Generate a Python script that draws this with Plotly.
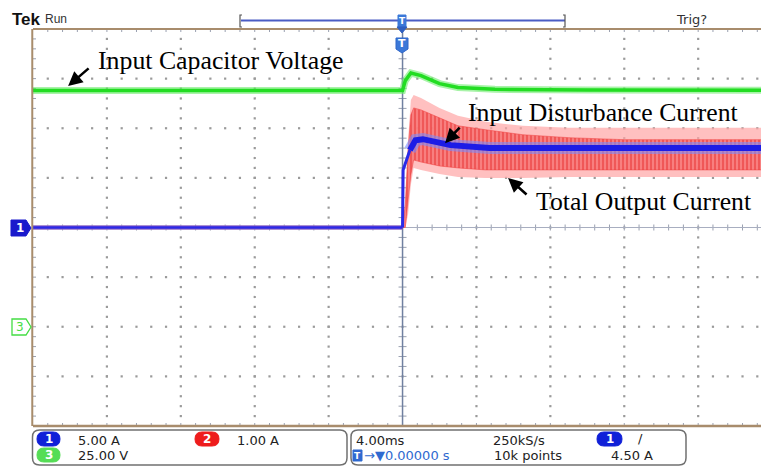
import numpy as np
import plotly.graph_objects as go

# ---------------- data read from the scope screen ----------------
# time base: 4.00 ms/div, trigger at 0 ms
TIME_PER_DIV_MS = 4.0
CH1_A_PER_DIV = 5.0      # blue : input disturbance current
CH2_A_PER_DIV = 1.0      # red  : total output current
CH3_V_PER_DIV = 25.0     # green: input capacitor voltage
CH3_OFFSET_DIV = -2.0

time_ms_green = [-20.0, -10.0, 0.0, 0.15, 0.45, 1.0, 2.0, 3.0, 5.0, 10.0, 15.0, 19.4]
ch3_volts     = [119.0, 119.0, 119.0, 124.0, 127.8, 126.5, 122.5, 120.5, 119.6, 119.3, 119.2, 119.2]

time_ms_blue_pre = [-20.0, 0.0]
ch1_amps_pre     = [0.0, 0.0]
time_ms_blue = [0.0, 0.03, 0.4, 0.7, 1.1, 2.0, 2.6, 4.7, 10.0, 19.4]
ch1_amps     = [0.0, 5.8, 7.8, 8.8, 8.9, 8.6, 8.3, 8.0, 8.0, 8.0]

time_ms_red = [0.0, 0.15, 0.3, 0.45, 0.6, 1.0, 2.0, 3.0, 4.5, 6.5, 9.0, 12.0, 15.0, 19.4]
ch2_core_hi = [0.0, 0.46, 1.56, 2.27, 2.41, 2.37, 2.21, 2.05, 1.97, 1.87, 1.81, 1.77, 1.77, 1.77]
ch2_core_lo = [0.0, 0.0, 0.56, 1.06, 1.36, 1.32, 1.24, 1.20, 1.16, 1.16, 1.16, 1.16, 1.16, 1.16]
ch2_halo_hi = [0.0, 0.56, 1.77, 2.57, 2.67, 2.61, 2.41, 2.25, 2.13, 2.05, 2.01, 2.01, 2.01, 2.01]
ch2_halo_lo = [0.0, 0.0, 0.26, 0.86, 1.20, 1.16, 1.08, 1.02, 1.00, 1.00, 1.02, 1.02, 1.02, 1.02]

labels = ["Input Capacitor Voltage", "Input Disturbance Current", "Total Output Current"]
status_row1 = ["5.00 A", "1.00 A", "4.00ms", "250kS/s"]
status_row2 = ["25.00 V", "→▼0.00000 s", "10k points", "4.50 A"]

# ---------------- layout geometry ----------------
W, H = 761, 466
L, R, T, B = 33, 0, 29, 40
PW, PH = W - L - R, H - T - B
X0, X1 = -20.0, 19.4
PXMS = PW / (X1 - X0)
PXDIV = PH / 8.0


def pp(x, y):
    return (x - L) / PW, (H - B - y) / PH


def ps(x, y):
    a, b = pp(x, y)
    return f"{a:.5f},{b:.5f}"


def rrect(x0, y0, x1, y1, r):
    return (f"M {ps(x0+r,y0)} L {ps(x1-r,y0)} Q {ps(x1,y0)} {ps(x1,y0+r)} "
            f"L {ps(x1,y1-r)} Q {ps(x1,y1)} {ps(x1-r,y1)} L {ps(x0+r,y1)} "
            f"Q {ps(x0,y1)} {ps(x0,y1-r)} L {ps(x0,y0+r)} Q {ps(x0,y0)} {ps(x0+r,y0)} Z")


def poly(pts):
    return "M " + " L ".join(ps(x, y) for x, y in pts) + " Z"


fig = go.Figure()

# ---------------- graticule ----------------
dx, dy = [], []
for yd in [-3, -2, -1, 1, 2, 3]:
    for k in np.arange(-25, 25):
        xv = k * 0.2 * TIME_PER_DIV_MS
        if X0 < xv < X1:
            dx.append(xv); dy.append(yd)
for xd in [-4, -3, -2, -1, 1, 2, 3, 4]:
    for k in np.arange(-19, 20):
        dx.append(xd * TIME_PER_DIV_MS); dy.append(k * 0.2)
fig.add_trace(go.Scatter(x=dx, y=dy, mode="markers", hoverinfo="skip",
                         marker=dict(size=2.2, color="#9a9a9a", symbol="square")))

# ticks on borders and center lines
tx, ty = [], []
tkx = 3 / PXMS
tky = 3 / PXDIV
for k in np.arange(-25, 25):
    xv = k * 0.2 * TIME_PER_DIV_MS
    if X0 < xv < X1:
        tx += [xv, xv, None, xv, xv, None, xv, xv, None]
        ty += [4, 4 - tky, None, -4, -4 + tky, None, -tky, tky, None]
for k in np.arange(-19, 20):
    yv = k * 0.2
    tx += [X0, X0 + tkx, None, -4 / PXMS, 4 / PXMS, None]
    ty += [yv, yv, None, yv, yv, None]
fig.add_trace(go.Scatter(x=tx, y=ty, mode="lines", hoverinfo="skip",
                         line=dict(color="#9aa0b0", width=1)))
fig.add_trace(go.Scatter(x=[X0, X1], y=[0, 0], mode="lines", hoverinfo="skip",
                         line=dict(color="#a8aec0", width=1)))
fig.add_trace(go.Scatter(x=[0, 0], y=[-4, 4], mode="lines", hoverinfo="skip",
                         line=dict(color="#7080a0", width=1.5)))

# ---------------- traces ----------------
# red (ch2) pre-trigger
fig.add_trace(go.Scatter(x=time_ms_blue_pre, y=[v / CH2_A_PER_DIV for v in ch1_amps_pre],
                         mode="lines", line=dict(color="#f04040", width=4), hoverinfo="skip"))
# red halo band
fig.add_trace(go.Scatter(x=time_ms_red, y=[v / CH2_A_PER_DIV for v in ch2_halo_hi], mode="lines",
                         line=dict(color="rgba(255,170,170,0.0)", width=0), hoverinfo="skip"))
fig.add_trace(go.Scatter(x=time_ms_red, y=[v / CH2_A_PER_DIV for v in ch2_halo_lo], mode="lines",
                         line=dict(color="rgba(255,170,170,0.0)", width=0), fill="tonexty",
                         fillcolor="rgba(255,165,165,0.7)", hoverinfo="skip"))
# red core band
fig.add_trace(go.Scatter(x=time_ms_red, y=[v / CH2_A_PER_DIV for v in ch2_core_hi], mode="lines",
                         line=dict(color="rgba(240,60,60,0.5)", width=1), hoverinfo="skip"))
fig.add_trace(go.Scatter(x=time_ms_red, y=[v / CH2_A_PER_DIV for v in ch2_core_lo], mode="lines",
                         line=dict(color="rgba(240,60,60,0.5)", width=1), fill="tonexty",
                         fillcolor="rgba(245,95,95,0.9)",
                         fillpattern=dict(shape="|", fgcolor="#e62828", bgcolor="rgba(248,120,120,0.9)",
                                          size=4, solidity=0.45),
                         hoverinfo="skip"))

# blue (ch1)
fig.add_trace(go.Scatter(x=time_ms_blue_pre, y=[v / CH1_A_PER_DIV for v in ch1_amps_pre], mode="lines",
                         line=dict(color="rgba(110,130,255,0.55)", width=5), hoverinfo="skip"))
fig.add_trace(go.Scatter(x=time_ms_blue_pre, y=[v / CH1_A_PER_DIV for v in ch1_amps_pre], mode="lines",
                         line=dict(color="#2a2ae8", width=2.5), hoverinfo="skip"))
fig.add_trace(go.Scatter(x=time_ms_blue[:3], y=[v / CH1_A_PER_DIV for v in ch1_amps[:3]], mode="lines",
                         line=dict(color="#2a2ae8", width=3), hoverinfo="skip"))
fig.add_trace(go.Scatter(x=time_ms_blue[2:], y=[v / CH1_A_PER_DIV for v in ch1_amps[2:]], mode="lines",
                         line=dict(color="rgba(120,140,255,0.6)", width=12), hoverinfo="skip"))
fig.add_trace(go.Scatter(x=time_ms_blue[2:], y=[v / CH1_A_PER_DIV for v in ch1_amps[2:]], mode="lines",
                         line=dict(color="#1c1ce6", width=6), hoverinfo="skip"))

# green (ch3)
g_div = [v / CH3_V_PER_DIV + CH3_OFFSET_DIV for v in ch3_volts]
fig.add_trace(go.Scatter(x=time_ms_green, y=g_div, mode="lines",
                         line=dict(color="rgba(110,235,110,0.6)", width=7), hoverinfo="skip"))
fig.add_trace(go.Scatter(x=time_ms_green, y=g_div, mode="lines",
                         line=dict(color="#22dd22", width=3.5), hoverinfo="skip"))

# ---------------- shapes ----------------
shapes = []
border = "#a88c6c"
shapes.append(dict(type="line", xref="paper", yref="paper", x0=0, x1=1, y0=1, y1=1,
                   line=dict(color=border, width=2)))
shapes.append(dict(type="line", xref="paper", yref="paper", x0=0, x1=1, y0=0, y1=0,
                   line=dict(color=border, width=2.5)))
shapes.append(dict(type="line", xref="paper", yref="paper", x0=-0.001, x1=-0.001, y0=0, y1=1,
                   line=dict(color=border, width=2)))

# trigger bar at top
tb = "#4a5cc4"
a = pp(241, 20.5); b = pp(565, 20.5)
shapes.append(dict(type="line", xref="paper", yref="paper", x0=a[0], x1=b[0], y0=a[1], y1=b[1],
                   line=dict(color=tb, width=2)))
for xb, d in [(240, 1), (565, -1)]:
    p1 = pp(xb + 2 * d, 15); p2 = pp(xb, 15); p3 = pp(xb, 27); p4 = pp(xb + 2 * d, 27)
    shapes.append(dict(type="path", xref="paper", yref="paper",
                       path=f"M {p1[0]},{p1[1]} L {p2[0]},{p2[1]} L {p3[0]},{p3[1]} L {p4[0]},{p4[1]}",
                       line=dict(color="#555555", width=1.2)))
# small T marker on the bar
shapes.append(dict(type="path", xref="paper", yref="paper",
                   path=poly([(398, 15), (406, 15), (406, 27), (398, 27)]),
                   fillcolor="#3b78d8", line=dict(color="#3b78d8", width=1)))
shapes.append(dict(type="path", xref="paper", yref="paper",
                   path=poly([(397, 27), (407, 27), (402, 33)]),
                   fillcolor="#2f5fc0", line=dict(color="#2f5fc0", width=1)))
# big T pin under top border
shapes.append(dict(type="path", xref="paper", yref="paper",
                   path=poly([(396, 38), (408, 38), (408, 49), (402, 53), (396, 49)]),
                   fillcolor="#3b78d8", line=dict(color="#2f66c8", width=1)))

# channel markers on the left
shapes.append(dict(type="path", xref="paper", yref="paper",
                   path=poly([(11, 220), (26, 220), (31, 228), (26, 236), (11, 236)]),
                   fillcolor="#1a1acc", line=dict(color="#1a1acc", width=1)))
shapes.append(dict(type="path", xref="paper", yref="paper",
                   path=poly([(12, 319), (26, 319), (31, 327), (26, 335), (12, 335)]),
                   fillcolor="white", line=dict(color="#44dd44", width=1.3)))

# status boxes
shapes.append(dict(type="path", xref="paper", yref="paper", path=rrect(32.5, 430, 347, 465, 7),
                   line=dict(color="#707070", width=1.5)))
shapes.append(dict(type="path", xref="paper", yref="paper", path=rrect(351, 430, 686, 465, 7),
                   line=dict(color="#707070", width=1.5)))
# pills
for (x0, y0, x1, y1, col) in [(37, 432, 60, 446, "#1020d8"), (195, 432, 219, 446, "#ee1c1c"),
                              (37, 448, 60, 462, "#55dd55"), (597, 432, 622, 446, "#1020d8")]:
    shapes.append(dict(type="path", xref="paper", yref="paper", path=rrect(x0, y0, x1, y1, 7),
                       fillcolor=col, line=dict(color=col, width=1)))
shapes.append(dict(type="path", xref="paper", yref="paper",
                   path=poly([(353, 450), (362, 450), (362, 461), (353, 461)]),
                   fillcolor="#2f6ad0", line=dict(color="#2f6ad0", width=1)))

# ---------------- annotations ----------------
ann = []


def txt(x, y, s, size=13, color="#222222", family="DejaVu Sans", anchor="left", bold=False):
    a = pp(x, y)
    ann.append(dict(x=a[0], y=a[1], xref="paper", yref="paper", text=(f"<b>{s}</b>" if bold else s),
                    showarrow=False, xanchor=anchor, yanchor="middle",
                    font=dict(size=size, color=color, family=family)))


txt(10, 20, "Tek", size=17, color="#111111", family="Liberation Sans", bold=True)
txt(43, 19, "Run", size=12, color="#333333", family="Liberation Sans")
txt(674, 19, "Trig?", size=13, color="#333333")
txt(402, 21, "T", size=9, color="white", anchor="center", bold=True)
txt(402, 44, "T", size=11, color="white", anchor="center", bold=True)
txt(20, 228, "1", size=12, color="white", anchor="center", bold=True)
txt(20, 327, "3", size=12, color="#44dd44", anchor="center")

serif = "Liberation Serif"
txt(96, 61, labels[0], size=25.8, color="black", family=serif)
txt(466, 113, labels[1], size=25.7, color="black", family=serif)
txt(534, 201, labels[2], size=25.7, color="black", family=serif)

# status bar
txt(48.5, 439, "1", size=12, color="white", anchor="center", bold=True)
txt(207, 439, "2", size=12, color="white", anchor="center", bold=True)
txt(48.5, 455, "3", size=12, color="white", anchor="center", bold=True)
txt(609.5, 439, "1", size=12, color="white", anchor="center", bold=True)
txt(357.5, 455.5, "T", size=9, color="white", anchor="center", bold=True)
txt(76, 440, status_row1[0])
txt(235, 440, status_row1[1])
txt(76, 456, status_row2[0])
txt(354, 440, status_row1[2])
txt(491, 440, status_row1[3])
txt(362, 456, status_row2[1], color="#2f6ad0")
txt(492, 456, status_row2[2])
txt(609, 456, status_row2[3])
txt(636, 439, "/", size=13, color="#222222")

# arrows (head in data coords, tail offset in pixels)
for hx, hy, axp, ayp in [(-18.10, 2.85, 22, -19), (2.30, 1.70, 16, -17), (5.71, 1.00, 20, 18)]:
    ann.append(dict(x=hx, y=hy, xref="x", yref="y", ax=axp, ay=ayp, showarrow=True, text="",
                    arrowhead=2, arrowsize=1.1, arrowwidth=2.6, arrowcolor="black", standoff=0))

fig.update_layout(
    width=W, height=H, margin=dict(l=L, r=R, t=T, b=B, pad=0),
    paper_bgcolor="white", plot_bgcolor="white", showlegend=False,
    xaxis=dict(range=[X0, X1], showgrid=False, zeroline=False, showticklabels=False, ticks="",
               showline=False, fixedrange=True),
    yaxis=dict(range=[-4, 4], showgrid=False, zeroline=False, showticklabels=False, ticks="",
               showline=False, fixedrange=True),
    shapes=shapes, annotations=ann,
)

fig.write_html("out.html", config={"displayModeBar": False},
               post_script="document.body.style.margin='0';document.body.style.overflow='hidden';")
